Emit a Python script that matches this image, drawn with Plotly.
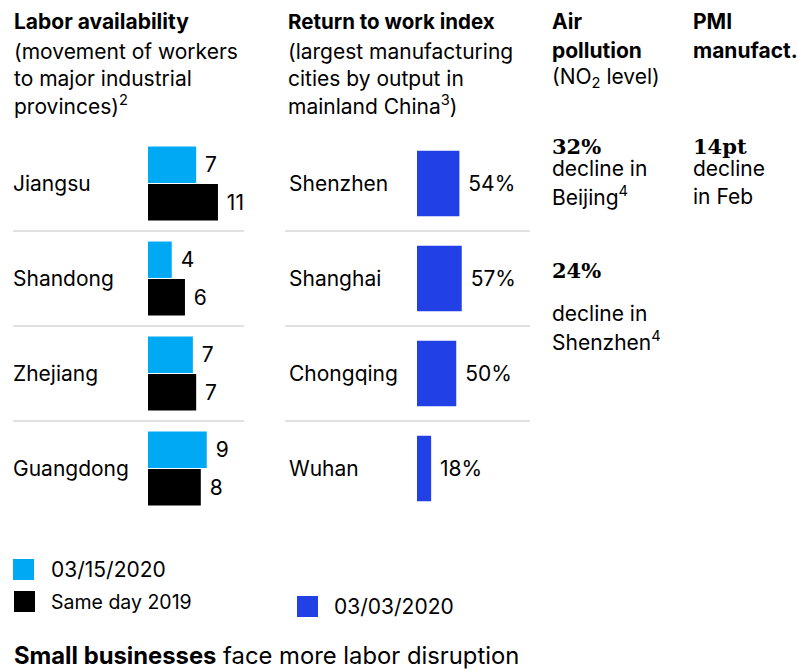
import plotly.graph_objects as go

W, H = 797, 669
SANS = "Inter"
SERIF = "DejaVu Serif"
INK = "#000000"
LIGHT_BLUE = "#00A9F4"
BLACK = "#000000"
BLUE = "#2140E6"
RULE = "#C4C4C4"
FS = 21

# ---- data ----
provinces = ["Jiangsu", "Shandong", "Zhejiang", "Guangdong"]
labor_2020 = [7.3, 3.6, 6.8, 8.9]       # 03/15/2020
labor_2019 = [10.6, 5.6, 7.3, 8.0]      # same day 2019
cities = ["Shenzhen", "Shanghai", "Chongqing", "Wuhan"]
return_index = [54, 57, 50, 18]         # % on 03/03/2020
series_names = ["03/15/2020", "Same day 2019", "03/03/2020"]


def px(x):
    return x / W


def py(y):
    return 1 - y / H


fig = go.Figure()

fig.add_trace(go.Bar(
    y=provinces, x=labor_2020, orientation="h", name=series_names[0],
    marker=dict(color=LIGHT_BLUE, line=dict(width=0)),
    texttemplate="\u00a0%{x:.0f}", textposition="outside", constraintext="none",
    textfont=dict(family=SANS, size=FS, color=INK), cliponaxis=False,
    xaxis="x", yaxis="y", showlegend=False, hoverinfo="skip",
))
fig.add_trace(go.Bar(
    y=provinces, x=labor_2019, orientation="h", name=series_names[1],
    marker=dict(color=BLACK, line=dict(width=0)),
    texttemplate="\u00a0%{x:.0f}", textposition="outside", constraintext="none",
    textfont=dict(family=SANS, size=FS, color=INK), cliponaxis=False,
    xaxis="x", yaxis="y", showlegend=False, hoverinfo="skip",
))
fig.add_trace(go.Bar(
    y=cities, x=return_index, orientation="h", name=series_names[2],
    marker=dict(color=BLUE, line=dict(width=0)),
    texttemplate="\u00a0%{x}%", textposition="outside", constraintext="none",
    textfont=dict(family=SANS, size=FS, color=INK), cliponaxis=False,
    xaxis="x2", yaxis="y2", showlegend=False, width=0.69, hoverinfo="skip",
))

hidden = dict(showgrid=False, zeroline=False, showticklabels=False, showline=False, ticks="")
row_top, row_bot = 136, 516

fig.update_layout(
    width=W, height=H,
    margin=dict(l=0, r=0, t=0, b=0),
    paper_bgcolor="white", plot_bgcolor="white",
    barmode="group", bargap=0.21, bargroupgap=0.03,
    xaxis=dict(domain=[px(148), px(148 + 99)], range=[0, 15], fixedrange=True, **hidden),
    yaxis=dict(domain=[py(row_bot), py(row_top)], type="category",
               autorange="reversed", fixedrange=True, **hidden),
    xaxis2=dict(domain=[px(417), px(417 + 78.5)], range=[0, 100], fixedrange=True, **hidden),
    yaxis2=dict(domain=[py(row_bot), py(row_top)], type="category",
                autorange="reversed", anchor="x2", fixedrange=True, **hidden),
    font=dict(family=SANS, color=INK),
)

shapes = []
for k in range(len(provinces) - 1):
    shapes.append(dict(type="line", xref="paper", yref="y", x0=px(13), x1=px(244),
                       y0=k + 0.5, y1=k + 0.5, line=dict(color=RULE, width=1)))
for k in range(len(cities) - 1):
    shapes.append(dict(type="line", xref="paper", yref="y2", x0=px(285), x1=px(530),
                       y0=k + 0.5, y1=k + 0.5, line=dict(color=RULE, width=1)))

# legend swatches
legend_items = [
    (13, 559, LIGHT_BLUE, series_names[0], 50, 21),
    (14, 591, BLACK, series_names[1], 50, 19.5),
    (297, 596, BLUE, series_names[2], 333, 21),
]
for x0, y0, col, _, _, _ in legend_items:
    shapes.append(dict(type="rect", xref="paper", yref="paper",
                       x0=px(x0), x1=px(x0 + 21), y0=py(y0 + 21), y1=py(y0),
                       fillcolor=col, line=dict(width=0)))
fig.update_layout(shapes=shapes)

annotations = []


def ann(text, x, y, size, family=SANS, xanchor="left", yanchor="middle"):
    annotations.append(dict(
        text=text, x=px(x), y=py(y), xref="paper", yref="paper",
        xanchor=xanchor, yanchor=yanchor, showarrow=False,
        align="left", font=dict(family=family, size=size, color=INK)))


# column headers
ann("<b>Labor availability</b>", 12, 22, FS)
ann("(movement of workers", 12, 52, FS)
ann("to major industrial", 12, 78, FS)
ann("provinces)<sup>2</sup>", 12, 105, FS)

ann("<b>Return to work index</b>", 286, 22, 20.5)
ann("(largest manufacturing", 286, 52, FS)
ann("cities by output in", 286, 78, FS)
ann("mainland China<sup>3</sup>)", 286, 105, FS)

ann("<b>Air</b>", 550, 22, FS)
ann("<b>pollution</b>", 550, 50, FS)
ann("(NO<sub>2</sub> level)", 550, 78, FS)

ann("<b>PMI</b>", 691, 22, FS)
ann("<b>manufact.</b>", 691, 50, FS)

# key numbers
ann("<b>32%</b>", 550, 146, 21, family=SERIF)
ann("decline in", 550, 168, FS)
ann("Beijing<sup>4</sup>", 550, 196, FS)

ann("<b>24%</b>", 550, 270, 21, family=SERIF)
ann("decline in", 550, 314, FS)
ann("Shenzhen<sup>4</sup>", 550, 341, FS)

ann("<b>14pt</b>", 691, 146, 21, family=SERIF)
ann("decline", 691, 168, FS)
ann("in Feb", 691, 196, FS)

# row labels
for p in provinces:
    annotations.append(dict(text=p, x=px(11), y=p, xref="paper", yref="y", xanchor="left",
                            yanchor="middle", showarrow=False,
                            font=dict(family=SANS, size=FS, color=INK)))
for c in cities:
    annotations.append(dict(text=c, x=px(287), y=c, xref="paper", yref="y2", xanchor="left",
                            yanchor="middle", showarrow=False,
                            font=dict(family=SANS, size=FS, color=INK)))

# legend labels
for x0, y0, _, name, tx, fs in legend_items:
    ann(name, tx - 1, y0 + 10.5, fs)

# bottom line
ann("<b>Small businesses</b> face more labor disruption", 12, 655, 23.8)

fig.update_layout(annotations=annotations)
fig.write_html("out.html", config={"displayModeBar": False},
               post_script="document.body.style.margin='0px';")
